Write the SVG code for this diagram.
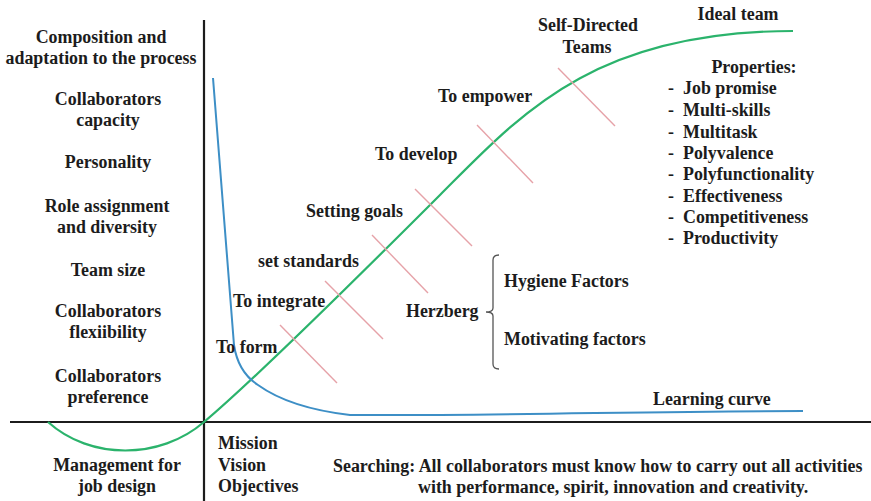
<svg xmlns="http://www.w3.org/2000/svg" width="871" height="501" viewBox="0 0 871 501">
  <style>
    text { font-family: "Liberation Serif", "Times New Roman", serif; font-weight: bold; font-size: 17.9px; fill: #1c1c1c; }
    .c { text-anchor: middle; }
    .axis { stroke: #1c1c1c; stroke-width: 2.2; fill: none; }
    .team { stroke: #2bb36c; stroke-width: 2.2; fill: none; }
    .learn { stroke: #3d8fc6; stroke-width: 2; fill: none; }
    .tick { stroke: #e6a2a8; stroke-width: 1.4; }
    .brace { stroke: #555; stroke-width: 1.3; fill: none; }
  </style>

  <!-- axes -->
  <g id="axes">
    <line class="axis" x1="204" y1="20" x2="204" y2="501"/>
    <line class="axis" x1="10" y1="422" x2="871" y2="422"/>
  </g>

  <!-- curves and stage ticks -->
  <g id="connectors">
    <path class="team" d="M48,422 C90,460 160,460 204,422 C260,375 380,255 440,195 C520,115 593,31 793,31"/>
    <path class="learn" d="M213,78 L234,345 Q238,372 258,385 Q290,408 350,415 C500,416 650,411 803,411"/>
    <line class="tick" x1="280" y1="325" x2="337" y2="383"/>
    <line class="tick" x1="325" y1="281" x2="383" y2="339"/>
    <line class="tick" x1="372" y1="235" x2="428" y2="293"/>
    <line class="tick" x1="415" y1="189" x2="472" y2="246"/>
    <line class="tick" x1="477" y1="125" x2="533" y2="183"/>
    <line class="tick" x1="558" y1="68" x2="615" y2="126"/>
    <path class="brace" d="M499,255 Q493,255 493,260 L493,308 Q493,312 486,312 Q493,312 493,316 L493,364 Q493,369 499,369"/>
  </g>

  <!-- left-hand factors -->
  <g id="factors">
    <text class="c" x="101" y="43">Composition and</text>
    <text class="c" x="101" y="64">adaptation to the process</text>
    <text class="c" x="108" y="105">Collaborators</text>
    <text class="c" x="108" y="126">capacity</text>
    <text class="c" x="108" y="168">Personality</text>
    <text class="c" x="107" y="212">Role assignment</text>
    <text class="c" x="107" y="233">and diversity</text>
    <text class="c" x="108" y="276">Team size</text>
    <text class="c" x="108" y="317">Collaborators</text>
    <text class="c" x="108" y="338">flexiibility</text>
    <text class="c" x="108" y="382">Collaborators</text>
    <text class="c" x="108" y="403">preference</text>
  </g>

  <g id="job-design">
    <text class="c" x="117" y="471">Management for</text>
    <text class="c" x="117" y="492">job design</text>
  </g>

  <g id="mission">
    <text x="218" y="449">Mission</text>
    <text x="218" y="471">Vision</text>
    <text x="218" y="492">Objectives</text>
  </g>

  <!-- stages along the team curve -->
  <g id="stages">
    <text x="216" y="353">To form</text>
    <text x="233" y="307">To integrate</text>
    <text x="258" y="267">set standards</text>
    <text x="306" y="217">Setting goals</text>
    <text x="375" y="160">To develop</text>
    <text x="438" y="102">To empower</text>
    <text class="c" x="588" y="31">Self-Directed</text>
    <text class="c" x="587" y="53">Teams</text>
    <text class="c" x="738" y="20">Ideal team</text>
  </g>

  <g id="properties">
    <text class="c" x="754" y="73">Properties:</text>
    <text x="668" y="94">-</text><text x="683" y="94">Job promise</text>
    <text x="668" y="116">-</text><text x="683" y="116">Multi-skills</text>
    <text x="668" y="138">-</text><text x="683" y="138">Multitask</text>
    <text x="668" y="159">-</text><text x="683" y="159">Polyvalence</text>
    <text x="668" y="180">-</text><text x="683" y="180">Polyfunctionality</text>
    <text x="668" y="202">-</text><text x="683" y="202">Effectiveness</text>
    <text x="668" y="223">-</text><text x="683" y="223">Competitiveness</text>
    <text x="668" y="244">-</text><text x="683" y="244">Productivity</text>
  </g>

  <g id="herzberg">
    <text x="406" y="317">Herzberg</text>
    <text x="504" y="287">Hygiene Factors</text>
    <text x="504" y="345">Motivating factors</text>
  </g>

  <g id="learning-curve">
    <text x="653" y="405">Learning curve</text>
  </g>

  <g id="searching">
    <text x="333" y="472">Searching: All collaborators must know how to carry out all activities</text>
    <text x="418" y="493">with performance, spirit, innovation and creativity.</text>
  </g>
</svg>
